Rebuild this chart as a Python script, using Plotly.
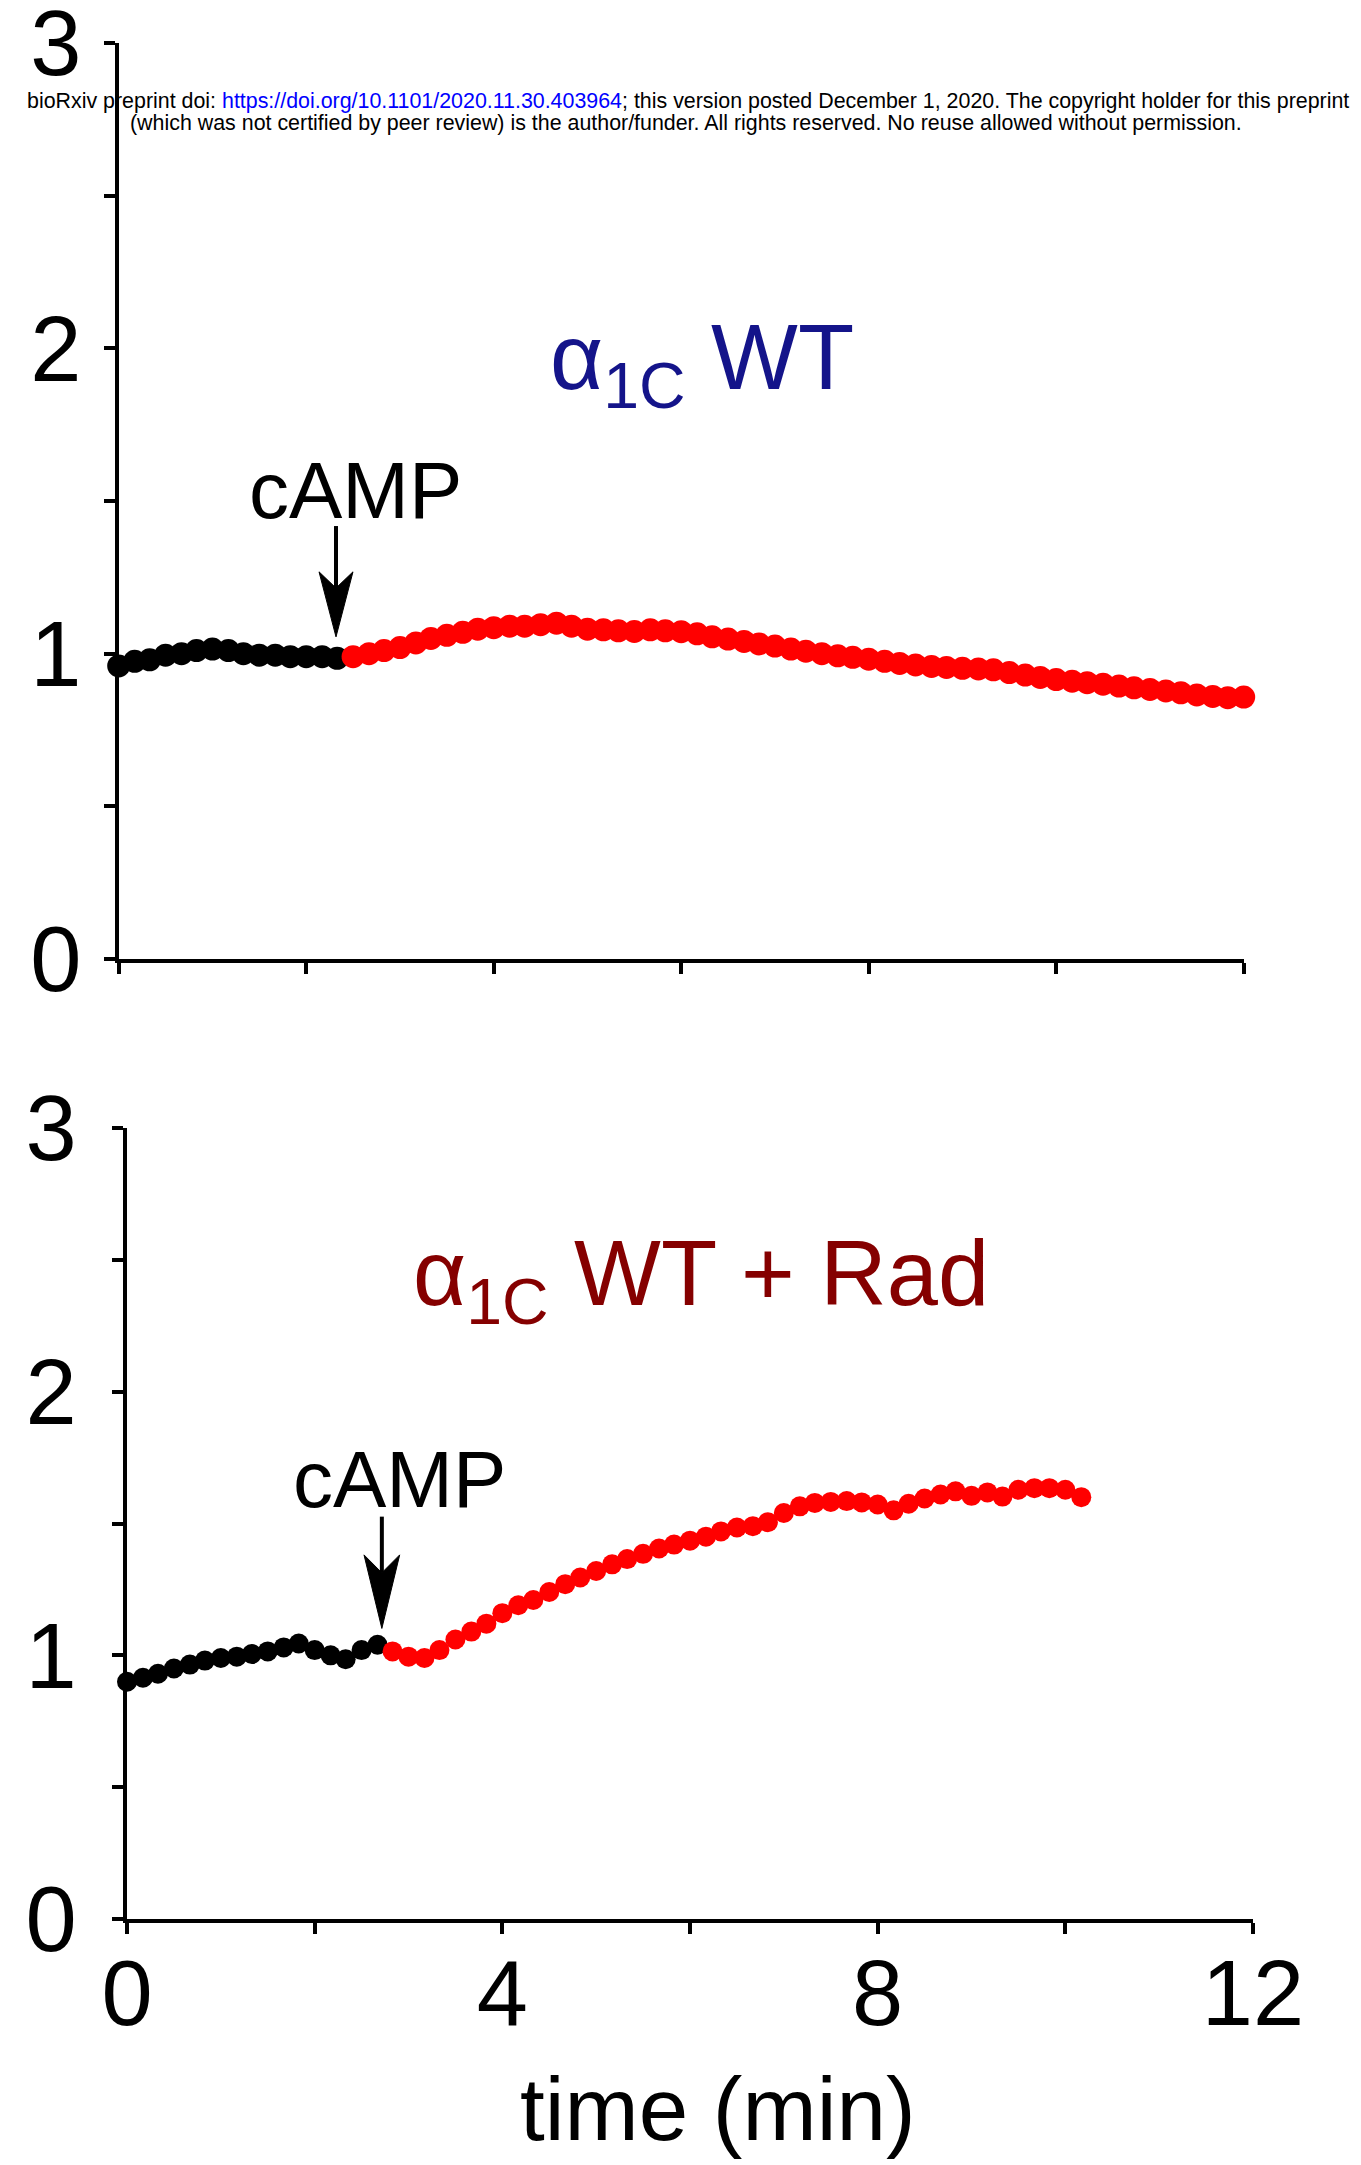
import plotly.graph_objects as go

# ---------------- data ----------------
# top panel: alpha1C WT
t_top_black = [0.0, 0.17, 0.33, 0.5, 0.67, 0.83, 1.0, 1.17, 1.33, 1.5, 1.67, 1.83, 2.0, 2.17, 2.33]
v_top_black = [0.96, 0.975, 0.98, 0.995, 1.0, 1.01, 1.015, 1.01, 1.0, 0.995, 0.995, 0.99, 0.99, 0.99, 0.985]

t_top_red = [2.5, 2.67, 2.83, 3.0, 3.17, 3.33, 3.5, 3.67, 3.83, 4.0,
             4.17, 4.33, 4.5, 4.67, 4.83, 5.0, 5.17, 5.33, 5.5, 5.67,
             5.83, 6.0, 6.17, 6.33, 6.5, 6.67, 6.83, 7.0, 7.17, 7.33,
             7.5, 7.67, 7.83, 8.0, 8.17, 8.33, 8.5, 8.67, 8.83, 9.0,
             9.17, 9.33, 9.5, 9.67, 9.83, 10.0, 10.17, 10.33, 10.5, 10.67,
             10.83, 11.0, 11.17, 11.33, 11.5, 11.67, 11.83, 12.0]
v_top_red = [0.99, 1.0, 1.01, 1.02, 1.035, 1.05, 1.06, 1.07, 1.08, 1.085,
             1.09, 1.09, 1.095, 1.1, 1.09, 1.08, 1.078, 1.075, 1.073, 1.078,
             1.075, 1.072, 1.065, 1.055, 1.048, 1.04, 1.032, 1.025, 1.015, 1.008,
             1.0, 0.993, 0.988, 0.982, 0.975, 0.968, 0.963, 0.958, 0.955, 0.952,
             0.95, 0.947, 0.938, 0.93, 0.922, 0.915, 0.91, 0.905, 0.9, 0.894,
             0.888, 0.883, 0.878, 0.872, 0.865, 0.86, 0.856, 0.858]

# bottom panel: alpha1C WT + Rad
t_bot_black = [0.0, 0.17, 0.33, 0.5, 0.67, 0.83, 1.0, 1.17, 1.33, 1.5, 1.67, 1.83, 2.0, 2.17, 2.33, 2.5, 2.67]
v_bot_black = [0.90, 0.915, 0.93, 0.95, 0.965, 0.98, 0.99, 0.995, 1.005, 1.015, 1.03, 1.045, 1.02, 1.0, 0.985, 1.02, 1.04]

t_bot_red = [2.83, 3.0, 3.17, 3.33, 3.5, 3.67, 3.83, 4.0, 4.17, 4.33,
             4.5, 4.67, 4.83, 5.0, 5.17, 5.33, 5.5, 5.67, 5.83, 6.0,
             6.17, 6.33, 6.5, 6.67, 6.83, 7.0, 7.17, 7.33, 7.5, 7.67,
             7.83, 8.0, 8.17, 8.33, 8.5, 8.67, 8.83, 9.0, 9.17, 9.33,
             9.5, 9.67, 9.83, 10.0, 10.17]
v_bot_red = [1.015, 0.995, 0.99, 1.02, 1.06, 1.09, 1.12, 1.16, 1.19, 1.21,
             1.24, 1.27, 1.295, 1.32, 1.345, 1.365, 1.385, 1.405, 1.42, 1.435,
             1.45, 1.47, 1.485, 1.49, 1.505, 1.54, 1.565, 1.578, 1.582, 1.585,
             1.58, 1.572, 1.55, 1.575, 1.595, 1.61, 1.622, 1.605, 1.618, 1.602,
             1.628, 1.634, 1.634, 1.628, 1.6]

y_tickvals = [0, 0.5, 1, 1.5, 2, 2.5, 3]
y_ticktext = ["0", " ", "1", " ", "2", " ", "3"]
x_tickvals = [0, 2, 4, 6, 8, 10, 12]
x_ticktext = ["0", " ", "4", " ", "8", " ", "12"]

FONT = "Liberation Sans, Arial, sans-serif"
W, H = 1361, 2165

fig = go.Figure()

def add_pts(t, v, color, size, xa, ya):
    fig.add_trace(go.Scatter(x=t, y=v, mode="markers", xaxis=xa, yaxis=ya,
                             marker=dict(color=color, size=size, line=dict(width=0)),
                             cliponaxis=False, showlegend=False, hoverinfo="skip"))

add_pts(t_top_black, v_top_black, "#000000", 23, "x", "y")
add_pts(t_top_red, v_top_red, "#ff0000", 23, "x", "y")
add_pts(t_bot_black, v_bot_black, "#000000", 20, "x2", "y2")
add_pts(t_bot_red, v_bot_red, "#ff0000", 20, "x2", "y2")

def px_x(p):
    return p / W

def px_y(p):
    return 1 - p / H

axis_common = dict(showline=True, linecolor="black", linewidth=4, showgrid=False, zeroline=False,
                   ticks="outside", ticklen=11, tickwidth=4, tickcolor="black", automargin=False,
                   ticklabeloverflow="allow",
                   tickfont=dict(family=FONT, size=92, color="black"))

fig.update_layout(
    width=W, height=H, margin=dict(l=0, r=0, t=0, b=0, autoexpand=False),
    paper_bgcolor="white", plot_bgcolor="white", showlegend=False,
    xaxis=dict(domain=[px_x(118.7), px_x(1243.7)], range=[0, 12], anchor="y",
               tickvals=x_tickvals, showticklabels=False, **axis_common),
    yaxis=dict(domain=[px_y(959), px_y(43)], range=[0, 3], anchor="x",
               tickvals=y_tickvals, ticktext=y_ticktext, ticklabelstandoff=4, **axis_common),
    xaxis2=dict(domain=[px_x(127), px_x(1253)], range=[0, 12], anchor="y2",
                tickvals=x_tickvals, ticktext=x_ticktext, ticklabelstandoff=-19, **axis_common),
    yaxis2=dict(domain=[px_y(1919), px_y(1128)], range=[0, 3], anchor="x2",
                tickvals=y_tickvals, ticktext=y_ticktext, ticklabelstandoff=17, **axis_common),
)

hdr_font = dict(family=FONT, size=21.4, color="black")
annotations = [
    dict(text=("bioRxiv preprint doi: <span style='color:#0000ff'>https://doi.org/10.1101/2020.11.30.403964</span>; "
               "this version posted December 1, 2020. The copyright holder for this preprint"),
         x=px_x(688), y=px_y(101), xref="paper", yref="paper", showarrow=False,
         font=hdr_font, xanchor="center", yanchor="middle"),
    dict(text="(which was not certified by peer review) is the author/funder. All rights reserved. No reuse allowed without permission.",
         x=px_x(686), y=px_y(123), xref="paper", yref="paper", showarrow=False,
         font=hdr_font, xanchor="center", yanchor="middle"),
    dict(text="α<sub>1C</sub> WT", x=px_x(702), y=px_y(364), xref="paper", yref="paper",
         showarrow=False, font=dict(family=FONT, size=92, color="#14148a"),
         xanchor="center", yanchor="middle"),
    dict(text="α<sub>1C</sub> WT + Rad", x=px_x(701), y=px_y(1280), xref="paper", yref="paper",
         showarrow=False, font=dict(family=FONT, size=92, color="#850000"),
         xanchor="center", yanchor="middle"),
    dict(text="cAMP", x=px_x(355), y=px_y(490), xref="paper", yref="paper",
         showarrow=False, font=dict(family=FONT, size=80, color="black"),
         xanchor="center", yanchor="middle"),
    dict(text="cAMP", x=px_x(399), y=px_y(1479), xref="paper", yref="paper",
         showarrow=False, font=dict(family=FONT, size=80, color="black"),
         xanchor="center", yanchor="middle"),
    dict(text="time (min)", x=px_x(718), y=px_y(2109), xref="paper", yref="paper",
         showarrow=False, font=dict(family=FONT, size=89, color="black"),
         xanchor="center", yanchor="middle"),
]
fig.update_layout(annotations=annotations)

def arrow(xref, yref, xc, tail, barb, notch, tip, hw):
    shapes = [
        dict(type="line", xref=xref, yref=yref, x0=xc, x1=xc, y0=tail, y1=notch,
             line=dict(color="black", width=4)),
        dict(type="path", xref=xref, yref=yref,
             path=f"M {xc - hw},{barb} L {xc},{tip} L {xc + hw},{barb} L {xc},{notch} Z",
             fillcolor="black", line=dict(color="black", width=1)),
    ]
    return shapes

shapes = arrow("x", "y", 2.318, 1.418, 1.268, 1.215, 1.055, 0.181)
shapes += arrow("x2", "y2", 2.716, 1.526, 1.381, 1.313, 1.102, 0.19)
fig.update_layout(shapes=shapes)

fig.write_html("out.html")
